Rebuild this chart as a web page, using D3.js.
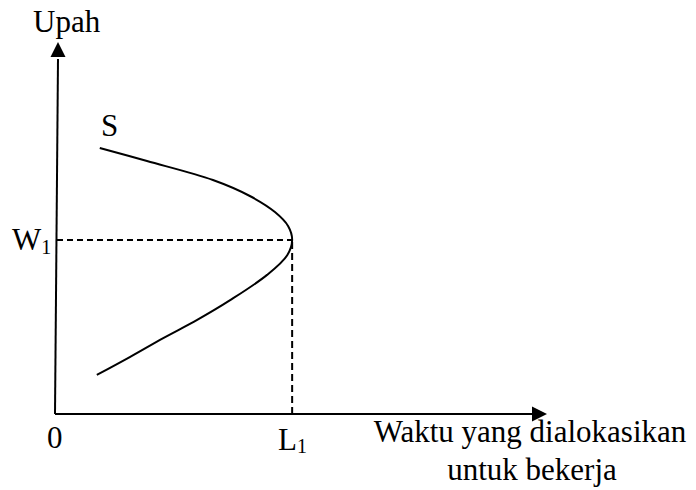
<!DOCTYPE html>
<html>
<head>
<script src="https://d3js.org/d3.v7.min.js"></script>
<style>
  body { margin: 0; background: #fff; }
  text { font-family: "Liberation Serif", "Times New Roman", serif; fill: #000; }
</style>
</head>
<body>
<svg class="chart"></svg>
<script>
// backward-bending labour supply curve S (labour time, wage), top end to bottom end
var supplyL = [9.1, 18.7, 32.1, 39.6, 44.7, 47.4, 48.2, 47.2, 43.1, 35.6, 28.9, 22.0, 15.2, 8.5];
var supplyW = [71.5, 68.0, 62.9, 58.6, 54.3, 50.5, 46.8, 42.7, 37.4, 30.6, 25.3, 20.4, 15.3, 10.5];
var w1 = 46.8, l1 = 48.2;
var labels = {y: "Upah", curve: "S", w: "W", l: "L", origin: "0",
              x1: "Waktu yang dialokasikan", x2: "untuk bekerja"};

var svgWidth = 696, svgHeight = 490;
var svg = d3.select(".chart").attr("width", svgWidth).attr("height", svgHeight);

var xScale = d3.scaleLinear().domain([0, 100]).range([55, 547]);
var yScale = d3.scaleLinear().domain([0, 100]).range([414, 42]);

var pts = supplyL.map((d, i) => [d, supplyW[i]]);

// axes (hand drawn with arrowheads)
svg.append("line")
    .attr("x1", xScale(0)).attr("y1", yScale(0))
    .attr("x2", xScale(0) + 3).attr("y2", yScale(0) - 355)
    .attr("stroke", "#000").attr("stroke-width", 2);
svg.append("path")
    .attr("d", "M" + (xScale(0) + 3) + "," + yScale(100) + " l-7.5,15 l15,0 z")
    .attr("fill", "#000");
svg.append("line")
    .attr("x1", xScale(0)).attr("y1", yScale(0))
    .attr("x2", xScale(100) - 12).attr("y2", yScale(0))
    .attr("stroke", "#000").attr("stroke-width", 2);
svg.append("path")
    .attr("d", "M" + xScale(100) + "," + yScale(0) + " l-15,-7.5 l0,15 z")
    .attr("fill", "#000");

// guide lines at W1 / L1
svg.append("line")
    .attr("x1", xScale(0) + 2).attr("y1", yScale(w1))
    .attr("x2", xScale(l1)).attr("y2", yScale(w1))
    .attr("stroke", "#000").attr("stroke-width", 2).attr("stroke-dasharray", "6,4");
svg.append("line")
    .attr("x1", xScale(l1)).attr("y1", yScale(w1) + 2)
    .attr("x2", xScale(l1)).attr("y2", yScale(0))
    .attr("stroke", "#000").attr("stroke-width", 2).attr("stroke-dasharray", "7,4");

// supply curve
var line = d3.line()
    .x(d => xScale(d[0]))
    .y(d => yScale(d[1]))
    .curve(d3.curveCatmullRom);
svg.append("path")
    .datum(pts)
    .attr("d", line)
    .attr("fill", "none").attr("stroke", "#000").attr("stroke-width", 2);

// labels
svg.append("text").attr("x", 33).attr("y", 32).attr("font-size", 31).text(labels.y);
svg.append("text").attr("x", 101).attr("y", 136).attr("font-size", 31).text(labels.curve);

var wt = svg.append("text").attr("x", 12).attr("y", 250).attr("font-size", 31);
wt.append("tspan").text(labels.w);
wt.append("tspan").attr("font-size", 20).attr("dy", 4).text("1");

svg.append("text").attr("x", 47).attr("y", 448).attr("font-size", 31).text(labels.origin);

var lt = svg.append("text").attr("x", 278).attr("y", 450).attr("font-size", 31);
lt.append("tspan").text(labels.l);
lt.append("tspan").attr("font-size", 20).attr("dy", 3).text("1");

svg.append("text").attr("x", 530).attr("y", 442).attr("font-size", 31)
    .attr("text-anchor", "middle").text(labels.x1);
svg.append("text").attr("x", 532).attr("y", 480).attr("font-size", 31)
    .attr("text-anchor", "middle").text(labels.x2);
</script>
</body>
</html>
